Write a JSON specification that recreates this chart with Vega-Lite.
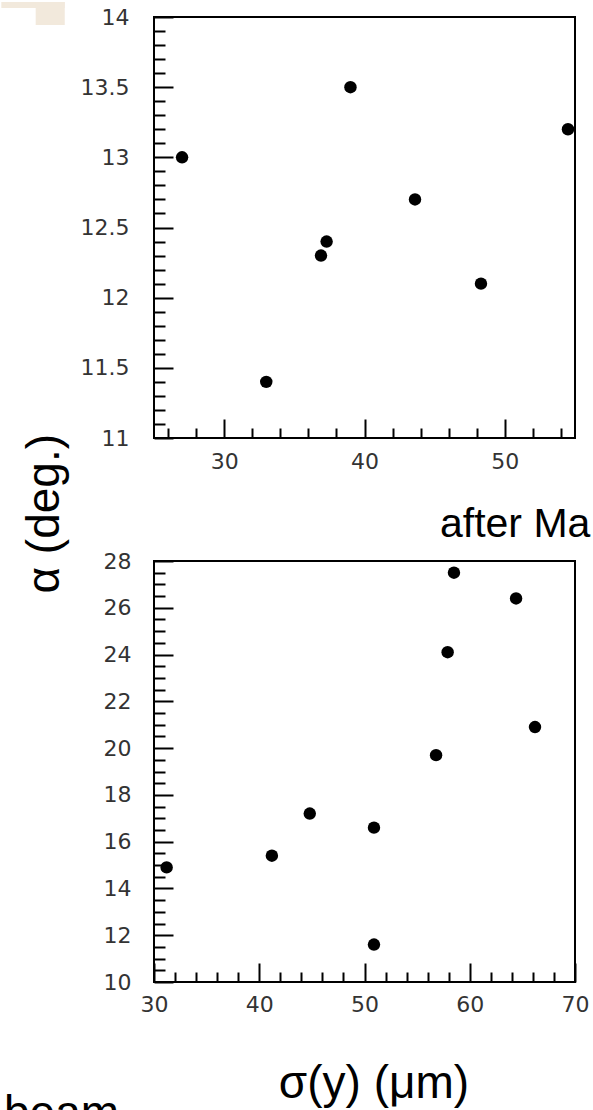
{
  "$schema": "https://vega.github.io/schema/vega-lite/v6.json",
  "background": "white",
  "padding": 0,
  "spacing": 123,
  "bounds": "flush",
  "datasets": {
    "before": [
      {"sigma": 27.0, "alpha": 13.0},
      {"sigma": 33.0, "alpha": 11.4},
      {"sigma": 36.9, "alpha": 12.3},
      {"sigma": 37.3, "alpha": 12.4},
      {"sigma": 39.0, "alpha": 13.5},
      {"sigma": 43.6, "alpha": 12.7},
      {"sigma": 48.3, "alpha": 12.1},
      {"sigma": 54.5, "alpha": 13.2}
    ],
    "after": [
      {"sigma": 31.2, "alpha": 14.9},
      {"sigma": 41.2, "alpha": 15.4},
      {"sigma": 44.8, "alpha": 17.2},
      {"sigma": 50.9, "alpha": 16.6},
      {"sigma": 50.9, "alpha": 11.6},
      {"sigma": 56.8, "alpha": 19.7},
      {"sigma": 57.9, "alpha": 24.1},
      {"sigma": 58.5, "alpha": 27.5},
      {"sigma": 64.4, "alpha": 26.4},
      {"sigma": 66.2, "alpha": 20.9}
    ],
    "corner": [
      {"x0": 14.12, "x1": 18.64, "y0": 14.107, "y1": 14.064},
      {"x0": 16.57, "x1": 18.64, "y0": 14.107, "y1": 13.943}
    ],
    "yTitle": [
      {"label": "α (deg.)", "sigma": 17.21, "alpha": 10.46}
    ],
    "panelNote": [
      {"label": "after Ma", "sigma": 57.17, "alpha": 29.03}
    ],
    "xTitle": [
      {"label": "σ(y) (μm)", "sigma": 50.9, "alpha": 5.04}
    ],
    "footNote": [
      {"label": "beam", "sigma": 15.75, "alpha": 3.76}
    ]
  },
  "vconcat": [
    {
      "width": 421,
      "height": 421,
      "layer": [
        {
          "data": {"name": "before"},
          "mark": {"type": "circle", "size": 155, "color": "black", "opacity": 1},
          "encoding": {
            "x": {
              "field": "sigma", "type": "quantitative",
              "scale": {"domain": [25, 55], "nice": false, "zero": false},
              "axis": {
                "title": null,
                "tickCount": 200,
                "values": [26, 28, 30, 32, 34, 36, 38, 40, 42, 44, 46, 48, 50, 52, 54],
                "tickSize": {"condition": {"test": "datum.value % 10 === 0", "value": -19}, "value": -10},
                "labelExpr": "datum.value % 10 === 0 ? format(datum.value, '~g') : ''",
                "labelPadding": 32
              }
            },
            "y": {
              "field": "alpha", "type": "quantitative",
              "scale": {"domain": [11, 14], "nice": false, "zero": false},
              "axis": {
                "title": null,
                "tickCount": 200,
                "values": [11, 11.1, 11.2, 11.3, 11.4, 11.5, 11.6, 11.7, 11.8, 11.9, 12, 12.1, 12.2, 12.3, 12.4, 12.5, 12.6, 12.7, 12.8, 12.9, 13, 13.1, 13.2, 13.3, 13.4, 13.5, 13.6, 13.7, 13.8, 13.9, 14],
                "tickSize": {"condition": {"test": "abs(datum.value * 2 - round(datum.value * 2)) < 0.001", "value": -19}, "value": -11},
                "labelExpr": "abs(datum.value * 2 - round(datum.value * 2)) < 0.001 ? format(datum.value, '~g') : ''",
                "labelPadding": 44
              }
            }
          }
        },
        {
          "data": {"name": "corner"},
          "mark": {"type": "rect", "color": "#f2e9dc", "clip": false},
          "encoding": {
            "x": {"field": "x0", "type": "quantitative", "scale": {"domain": [25, 55], "nice": false, "zero": false}},
            "x2": {"field": "x1"},
            "y": {"field": "y0", "type": "quantitative", "scale": {"domain": [11, 14], "nice": false, "zero": false}},
            "y2": {"field": "y1"}
          }
        },
        {
          "data": {"name": "yTitle"},
          "mark": {"type": "text", "font": "Liberation Sans", "fontSize": 46, "angle": 270, "align": "center", "baseline": "middle", "color": "black", "clip": false},
          "encoding": {
            "x": {"field": "sigma", "type": "quantitative", "scale": {"domain": [25, 55], "nice": false, "zero": false}},
            "y": {"field": "alpha", "type": "quantitative", "scale": {"domain": [11, 14], "nice": false, "zero": false}},
            "text": {"field": "label"}
          }
        }
      ]
    },
    {
      "width": 421,
      "height": 421,
      "layer": [
        {
          "data": {"name": "after"},
          "mark": {"type": "circle", "size": 155, "color": "black", "opacity": 1},
          "encoding": {
            "x": {
              "field": "sigma", "type": "quantitative",
              "scale": {"domain": [30, 70], "nice": false, "zero": false},
              "axis": {
                "title": null,
                "tickCount": 200,
                "values": [30, 32, 34, 36, 38, 40, 42, 44, 46, 48, 50, 52, 54, 56, 58, 60, 62, 64, 66, 68, 70],
                "tickSize": {"condition": {"test": "datum.value % 10 === 0", "value": -19}, "value": -10},
                "labelExpr": "datum.value % 10 === 0 ? format(datum.value, '~g') : ''",
                "labelPadding": 31
              }
            },
            "y": {
              "field": "alpha", "type": "quantitative",
              "scale": {"domain": [10, 28], "nice": false, "zero": false},
              "axis": {
                "title": null,
                "tickCount": 200,
                "values": [10, 10.5, 11, 11.5, 12, 12.5, 13, 13.5, 14, 14.5, 15, 15.5, 16, 16.5, 17, 17.5, 18, 18.5, 19, 19.5, 20, 20.5, 21, 21.5, 22, 22.5, 23, 23.5, 24, 24.5, 25, 25.5, 26, 26.5, 27, 27.5, 28],
                "tickSize": {"condition": {"test": "datum.value % 2 === 0", "value": -19}, "value": -11},
                "labelExpr": "datum.value % 2 === 0 ? format(datum.value, '~g') : ''",
                "labelPadding": 42
              }
            }
          }
        },
        {
          "data": {"name": "panelNote"},
          "mark": {"type": "text", "font": "Liberation Sans", "fontSize": 41, "align": "left", "baseline": "alphabetic", "color": "black", "clip": false},
          "encoding": {
            "x": {"field": "sigma", "type": "quantitative", "scale": {"domain": [30, 70], "nice": false, "zero": false}},
            "y": {"field": "alpha", "type": "quantitative", "scale": {"domain": [10, 28], "nice": false, "zero": false}},
            "text": {"field": "label"}
          }
        },
        {
          "data": {"name": "xTitle"},
          "mark": {"type": "text", "font": "Liberation Sans", "fontSize": 46, "align": "center", "baseline": "alphabetic", "color": "black", "clip": false},
          "encoding": {
            "x": {"field": "sigma", "type": "quantitative", "scale": {"domain": [30, 70], "nice": false, "zero": false}},
            "y": {"field": "alpha", "type": "quantitative", "scale": {"domain": [10, 28], "nice": false, "zero": false}},
            "text": {"field": "label"}
          }
        },
        {
          "data": {"name": "footNote"},
          "mark": {"type": "text", "font": "Liberation Sans", "fontSize": 46, "align": "left", "baseline": "alphabetic", "color": "black", "clip": false},
          "encoding": {
            "x": {"field": "sigma", "type": "quantitative", "scale": {"domain": [30, 70], "nice": false, "zero": false}},
            "y": {"field": "alpha", "type": "quantitative", "scale": {"domain": [10, 28], "nice": false, "zero": false}},
            "text": {"field": "label"}
          }
        }
      ]
    }
  ],
  "config": {
    "view": {"stroke": "black", "strokeWidth": 2},
    "axis": {
      "domain": false,
      "grid": false,
      "tickColor": "black",
      "tickWidth": 2,
      "labelFont": "DejaVu Sans",
      "labelFontSize": 22,
      "labelColor": "#333333",
      "labelOverlap": false,
      "labelFlush": false,
      "labelBound": false
    }
  }
}
